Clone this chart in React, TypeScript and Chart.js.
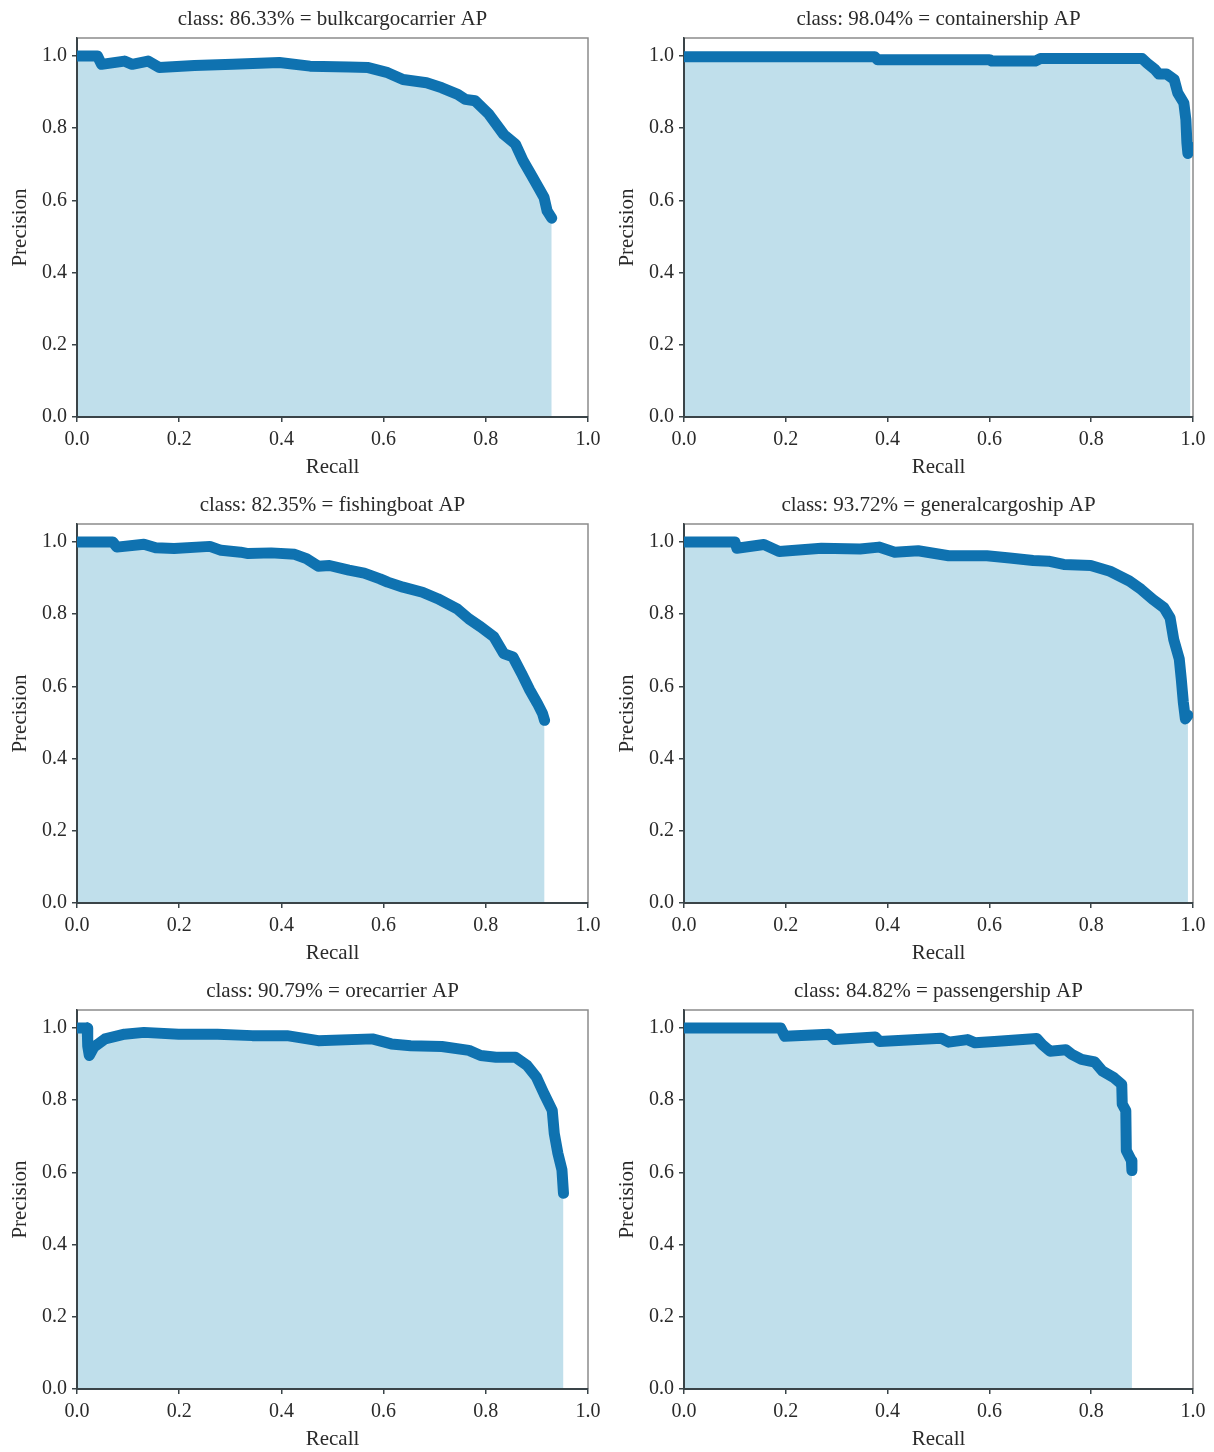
import React, { useEffect, useRef } from 'react';
import { Chart, registerables } from 'chart.js';

Chart.register(...registerables);

// ---------- data ----------
const axisTicks = [0, 0.2, 0.4, 0.6, 0.8, 1.0];
const xAxisLabel = 'Recall';
const yAxisLabel = 'Precision';

const classNames = ['bulkcargocarrier', 'containership', 'fishingboat', 'generalcargoship', 'orecarrier', 'passengership'];
const apValues = ['86.33', '98.04', '82.35', '93.72', '90.79', '84.82'];

const bulkcargocarrierRecall = [0, 0.04, 0.048, 0.093, 0.108, 0.139, 0.161, 0.23, 0.305, 0.396, 0.456, 0.532, 0.57, 0.608, 0.638, 0.684, 0.714, 0.745, 0.76, 0.779, 0.806, 0.835, 0.858, 0.873, 0.888, 0.903, 0.914, 0.92, 0.929];
const bulkcargocarrierPrecision = [1.0, 1.0, 0.977, 0.986, 0.977, 0.986, 0.968, 0.974, 0.977, 0.982, 0.972, 0.97, 0.968, 0.954, 0.935, 0.926, 0.912, 0.894, 0.88, 0.876, 0.839, 0.783, 0.756, 0.71, 0.673, 0.636, 0.608, 0.571, 0.551];

const containershipRecall = [0, 0.375, 0.38, 0.6, 0.605, 0.69, 0.7, 0.9, 0.91, 0.925, 0.933, 0.948, 0.963, 0.97, 0.982, 0.986, 0.988, 0.99, 0.995];
const containershipPrecision = [0.998, 0.998, 0.99, 0.99, 0.986, 0.986, 0.993, 0.993, 0.98, 0.963, 0.95, 0.95, 0.935, 0.898, 0.87, 0.824, 0.76, 0.73, 0.748];

const fishingboatRecall = [0, 0.07, 0.078, 0.131, 0.154, 0.19, 0.26, 0.282, 0.32, 0.335, 0.38, 0.426, 0.449, 0.472, 0.494, 0.532, 0.562, 0.593, 0.608, 0.638, 0.676, 0.706, 0.744, 0.767, 0.79, 0.816, 0.835, 0.853, 0.87, 0.886, 0.901, 0.911, 0.915];
const fishingboatPrecision = [1.0, 1.0, 0.986, 0.994, 0.984, 0.982, 0.988, 0.977, 0.972, 0.968, 0.97, 0.966, 0.954, 0.933, 0.935, 0.922, 0.914, 0.898, 0.889, 0.875, 0.861, 0.843, 0.815, 0.787, 0.765, 0.737, 0.691, 0.682, 0.636, 0.59, 0.553, 0.525, 0.506];

const generalcargoshipRecall = [0, 0.1, 0.104, 0.157, 0.187, 0.27, 0.346, 0.383, 0.414, 0.46, 0.52, 0.595, 0.64, 0.686, 0.716, 0.746, 0.799, 0.837, 0.875, 0.898, 0.921, 0.943, 0.955, 0.962, 0.973, 0.977, 0.981, 0.985, 0.99];
const generalcargoshipPrecision = [1.0, 1.0, 0.983, 0.993, 0.974, 0.983, 0.981, 0.986, 0.972, 0.976, 0.962, 0.962, 0.956, 0.949, 0.947, 0.938, 0.935, 0.919, 0.892, 0.869, 0.841, 0.818, 0.79, 0.731, 0.676, 0.62, 0.556, 0.51, 0.52];

const orecarrierRecall = [0, 0.02, 0.021, 0.024, 0.033, 0.055, 0.093, 0.131, 0.199, 0.275, 0.343, 0.411, 0.472, 0.578, 0.615, 0.653, 0.714, 0.767, 0.79, 0.82, 0.858, 0.881, 0.899, 0.914, 0.93, 0.934, 0.941, 0.949, 0.952];
const orecarrierPrecision = [1.0, 1.0, 0.95, 0.924, 0.947, 0.97, 0.983, 0.988, 0.983, 0.983, 0.979, 0.979, 0.965, 0.97, 0.956, 0.951, 0.949, 0.938, 0.924, 0.919, 0.919, 0.896, 0.864, 0.818, 0.772, 0.708, 0.653, 0.607, 0.542];

const passengershipRecall = [0, 0.19, 0.198, 0.285, 0.296, 0.376, 0.384, 0.505, 0.52, 0.557, 0.572, 0.61, 0.693, 0.704, 0.719, 0.75, 0.762, 0.781, 0.807, 0.822, 0.845, 0.86, 0.861, 0.868, 0.869, 0.879, 0.88];
const passengershipPrecision = [1.0, 1.0, 0.977, 0.983, 0.968, 0.975, 0.963, 0.972, 0.961, 0.968, 0.959, 0.963, 0.971, 0.954, 0.936, 0.94, 0.927, 0.913, 0.906, 0.881, 0.862, 0.844, 0.789, 0.771, 0.661, 0.633, 0.605];

const recallSeries = [bulkcargocarrierRecall, containershipRecall, fishingboatRecall, generalcargoshipRecall, orecarrierRecall, passengershipRecall];
const precisionSeries = [bulkcargocarrierPrecision, containershipPrecision, fishingboatPrecision, generalcargoshipPrecision, orecarrierPrecision, passengershipPrecision];

// ---------- style ----------
const FONT_FAMILY = '"Liberation Serif", "DejaVu Serif", serif';
const TEXT_COLOR = '#2a2a2a';
const LINE_COLOR = '#0f72b0';
const FILL_COLOR = '#c0dfeb';
const SPINE_COLOR = '#3a4448';
const CANVAS_W = 607;
const CANVAS_H = 480;

// frame: gray top/right edges, dark left/bottom spines drawn over the fill but under the curve
const framePlugin = {
  id: 'frame',
  afterDatasetDraw(chart: any, args: any) {
    if (args.index !== 0) return;
    const { ctx, chartArea } = chart;
    const { left, right, top, bottom } = chartArea;
    ctx.save();
    ctx.strokeStyle = '#8c8c8c';
    ctx.lineWidth = 1.5;
    ctx.beginPath();
    ctx.moveTo(left, top);
    ctx.lineTo(right, top);
    ctx.lineTo(right, bottom);
    ctx.stroke();
    ctx.strokeStyle = SPINE_COLOR;
    ctx.lineWidth = 2;
    ctx.beginPath();
    ctx.moveTo(left, top);
    ctx.lineTo(left, bottom);
    ctx.lineTo(right, bottom);
    ctx.stroke();
    ctx.restore();
  },
};

// panel title centred over the plot area (like matplotlib's axes title)
const axesTitlePlugin = {
  id: 'axesTitle',
  afterDraw(chart: any, _args: any, opts: any) {
    const { ctx, chartArea } = chart;
    ctx.save();
    ctx.font = `normal 21px ${FONT_FAMILY}`;
    ctx.fillStyle = TEXT_COLOR;
    ctx.textAlign = 'center';
    ctx.textBaseline = 'middle';
    ctx.fillText(opts.text, (chartArea.left + chartArea.right) / 2, opts.y);
    ctx.restore();
  },
};

function PRPanel(props: { idx: number; left: number; top: number; rightPad: number }) {
  const { idx, left, top, rightPad } = props;
  const ref = useRef<HTMLCanvasElement>(null);

  useEffect(() => {
    const recall = recallSeries[idx];
    const precision = precisionSeries[idx];
    const pts = recall.map((r, i) => ({ x: r, y: precision[i] }));
    const tickFont = { family: FONT_FAMILY, size: 20, weight: 'normal' as const };
    const labelFont = { family: FONT_FAMILY, size: 21, weight: 'normal' as const };
    const chart = new Chart(ref.current as HTMLCanvasElement, {
      type: 'line',
      data: {
        datasets: [
          {
            data: pts,
            fill: 'origin',
            backgroundColor: FILL_COLOR,
            borderWidth: 0,
            pointRadius: 0,
            order: 2,
          },
          {
            data: pts,
            fill: false,
            borderColor: LINE_COLOR,
            borderWidth: 11,
            borderCapStyle: 'round',
            borderJoinStyle: 'round',
            pointRadius: 0,
            order: 1,
          },
        ],
      },
      options: {
        responsive: false,
        animation: false,
        layout: { padding: { left: 0, right: rightPad, top: 38, bottom: 0 } },
        plugins: {
          legend: { display: false },
          tooltip: { enabled: false },
          title: { display: false },
          axesTitle: { text: `class: ${apValues[idx]}% = ${classNames[idx]} AP`, y: 19 },
        },
        scales: {
          x: {
            type: 'linear',
            min: 0,
            max: 1,
            afterBuildTicks: (s: any) => {
              s.ticks = axisTicks.map((v) => ({ value: v }));
            },
            afterFit: (s: any) => {
              s.height = 63;
            },
            ticks: {
              callback: (v: any) => Number(v).toFixed(1),
              font: tickFont,
              color: TEXT_COLOR,
              padding: 6,
              maxRotation: 0,
              autoSkip: false,
            },
            grid: { drawOnChartArea: false, drawTicks: true, tickLength: 5, color: SPINE_COLOR, lineWidth: 1.5 },
            border: { display: true, color: SPINE_COLOR, width: 2 },
            title: { display: true, text: xAxisLabel, font: labelFont, color: TEXT_COLOR, padding: { top: 0, bottom: 0 } },
          },
          y: {
            type: 'linear',
            min: 0,
            max: 1.05,
            afterBuildTicks: (s: any) => {
              s.ticks = axisTicks.map((v) => ({ value: v }));
            },
            afterFit: (s: any) => {
              s.width = 77;
            },
            ticks: {
              callback: (v: any) => Number(v).toFixed(1),
              font: tickFont,
              color: TEXT_COLOR,
              padding: 5,
              autoSkip: false,
            },
            grid: { drawOnChartArea: false, drawTicks: true, tickLength: 5, color: SPINE_COLOR, lineWidth: 1.5 },
            border: { display: true, color: SPINE_COLOR, width: 2 },
            title: { display: true, text: yAxisLabel, font: labelFont, color: TEXT_COLOR, padding: { top: 8, bottom: 0 } },
          },
        },
      } as any,
      plugins: [framePlugin, axesTitlePlugin],
    });
    return () => chart.destroy();
  }, [idx, rightPad]);

  return (
    <canvas
      ref={ref}
      width={CANVAS_W}
      height={CANVAS_H}
      style={{ position: 'absolute', left, top, width: CANVAS_W, height: CANVAS_H }}
    />
  );
}

const rowTops = [0, 486, 972];
const colLefts = [0, 607];
const colRightPads = [19, 21];

export default function App() {
  return (
    <div style={{ position: 'absolute', left: 0, top: 0, width: 1214, height: 1452, background: '#ffffff' }}>
      {classNames.map((_, i) => (
        <PRPanel
          key={i}
          idx={i}
          left={colLefts[i % 2]}
          top={rowTops[Math.floor(i / 2)]}
          rightPad={colRightPads[i % 2]}
        />
      ))}
    </div>
  );
}
